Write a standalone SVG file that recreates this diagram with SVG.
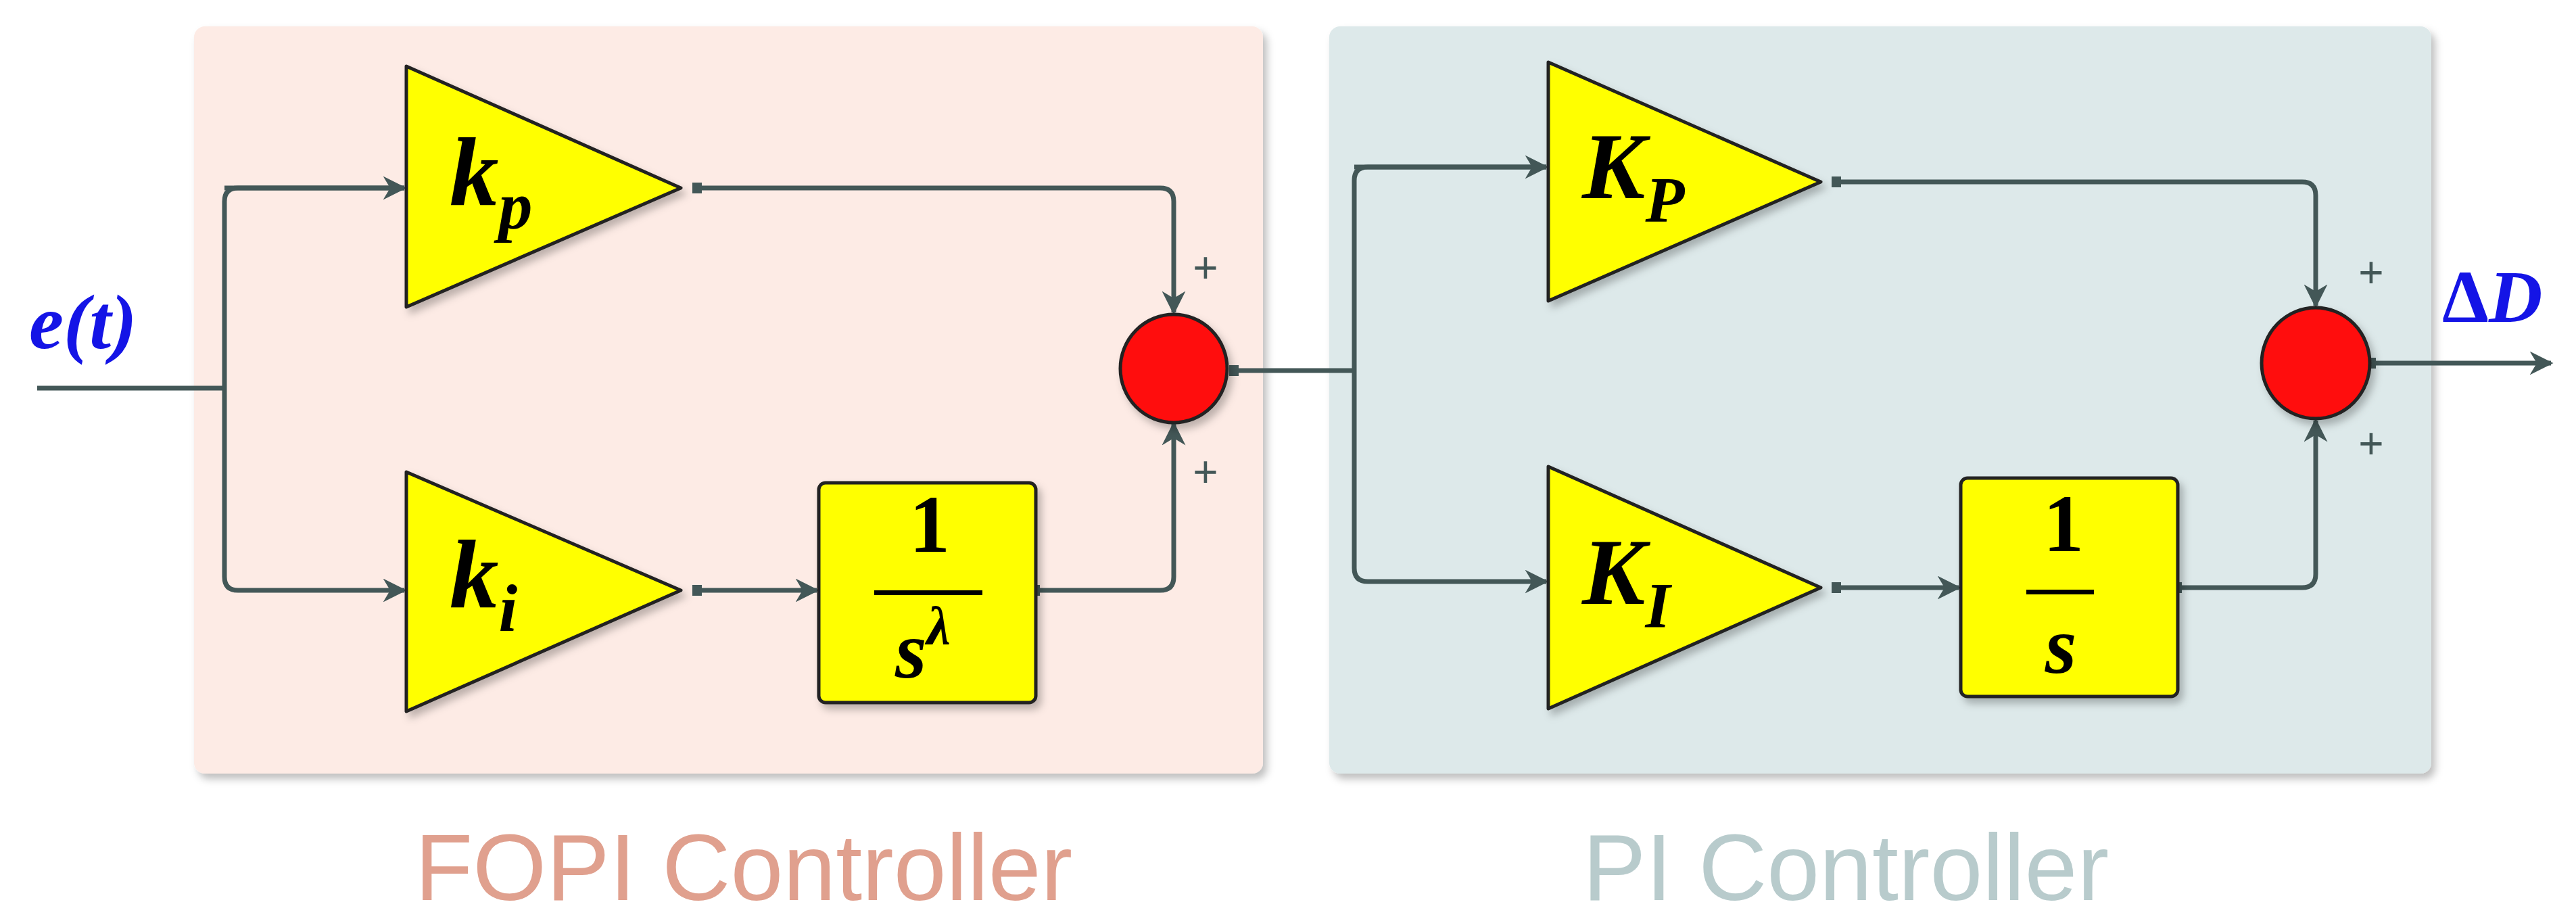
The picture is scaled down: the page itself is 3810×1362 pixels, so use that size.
<svg xmlns="http://www.w3.org/2000/svg" width="3810" height="1362" viewBox="0 0 3810 1362">
<defs>
<style>
.wire{fill:none;stroke:#435757;stroke-width:7;stroke-linejoin:round}
.tri{fill:#ffff00;stroke:#222;stroke-width:5;stroke-linejoin:round}
.blk{fill:#ffff00;stroke:#222;stroke-width:5}
.sum{fill:#ff0a0a;stroke:#222;stroke-width:5}
.port{fill:#435757}
.m{font-family:"Liberation Serif",serif;font-weight:bold;font-style:italic;fill:#000}
.n{font-family:"Liberation Serif",serif;font-weight:bold;fill:#000}
.plus{font-family:"Liberation Sans",sans-serif;font-size:64px;fill:#435757}
.cap{font-family:"Liberation Sans",sans-serif;font-size:140px}
</style>
<marker id="ah" viewBox="0 0 10 10" refX="9" refY="5" markerWidth="5" markerHeight="5" orient="auto" markerUnits="strokeWidth"><path d="M0,0 L10,5 L0,10 L3,5 z" fill="#435757"/></marker>
<filter id="sh" x="-10%" y="-10%" width="130%" height="130%"><feDropShadow dx="6" dy="8" stdDeviation="6" flood-opacity="0.25"/></filter>
</defs>
<rect width="3810" height="1362" fill="#fff"/>
<g id="fopi-panel"><rect x="287" y="39" width="1581" height="1105" rx="16" fill="#fdebe5" filter="url(#sh)"/><text class="cap" x="1100" y="1331" text-anchor="middle" fill="#e0a08e">FOPI Controller</text></g>
<g id="pi-panel"><rect x="1966" y="39" width="1630" height="1105" rx="16" fill="#dde9ea" filter="url(#sh)"/><text class="cap" x="2730" y="1331" text-anchor="middle" fill="#b8cbcc">PI Controller</text></g>
<g id="connectors">
<path class="wire" d="M55,574 H332"/>
<path class="wire" d="M598,278 H352 Q332,278 332,298 V853 Q332,873 352,873 H598" marker-end="url(#ah)"/>
<path class="wire" d="M332,278 H598" marker-end="url(#ah)"/>
<path class="wire" d="M1032,278 H1716 Q1736,278 1736,298 V462" marker-end="url(#ah)"/>
<path class="wire" d="M1032,873 H1208" marker-end="url(#ah)"/>
<path class="wire" d="M1532,873 H1716 Q1736,873 1736,853 V627" marker-end="url(#ah)"/>
<path class="wire" d="M1829,548 H2003"/>
<path class="wire" d="M2287,247 H2023 Q2003,247 2003,267 V840 Q2003,860 2023,860 H2287" marker-end="url(#ah)"/>
<path class="wire" d="M2003,247 H2287" marker-end="url(#ah)"/>
<path class="wire" d="M2717,269 H3405 Q3425,269 3425,289 V452" marker-end="url(#ah)"/>
<path class="wire" d="M2717,869 H2897" marker-end="url(#ah)"/>
<path class="wire" d="M3221,869 H3405 Q3425,869 3425,849 V622" marker-end="url(#ah)"/>
<path class="wire" d="M3505,537 H3773" marker-end="url(#ah)"/>
<rect class="port" x="1024" y="270" width="14" height="16"/>
<rect class="port" x="1024" y="865" width="14" height="16"/>
<rect class="port" x="1526" y="865" width="12" height="16"/>
<rect class="port" x="1818" y="540" width="14" height="16"/>
<rect class="port" x="2709" y="261" width="14" height="16"/>
<rect class="port" x="2709" y="861" width="14" height="16"/>
<rect class="port" x="3215" y="861" width="12" height="16"/>
<rect class="port" x="3500" y="529" width="14" height="16"/>
</g>
<g id="e-label"><text class="m" x="43" y="515" font-size="115" fill="#1414e6" style="fill:#1414e6">e(t)</text></g>
<g id="kp"><path class="tri" d="M601,98 L1007,278 L601,454 z" filter="url(#sh)"/><text class="m" x="665" y="303" font-size="145">k<tspan font-size="100" dy="35">p</tspan></text></g>
<g id="ki"><path class="tri" d="M601,698 L1007,873 L601,1052 z" filter="url(#sh)"/><text class="m" x="665" y="898" font-size="145">k<tspan font-size="100" dy="35">i</tspan></text></g>
<g id="frac-block"><rect class="blk" x="1211" y="714" width="321" height="325" rx="10" filter="url(#sh)"/><text class="n" x="1375" y="816" font-size="120" text-anchor="middle">1</text><rect x="1293" y="873" width="160" height="7" fill="#000"/><text class="m" x="1365" y="1002" font-size="120" text-anchor="middle">s<tspan font-size="80" dy="-50">λ</tspan></text></g>
<g id="sum1"><ellipse class="sum" cx="1736" cy="545" rx="79" ry="80" filter="url(#sh)"/><text class="plus" x="1783" y="418" text-anchor="middle">+</text><text class="plus" x="1783" y="720" text-anchor="middle">+</text></g>
<g id="KP"><path class="tri" d="M2290,92 L2693,269 L2290,445 z" filter="url(#sh)"/><text class="m" x="2340" y="293" font-size="140">K<tspan font-size="95" dy="35">P</tspan></text></g>
<g id="KI"><path class="tri" d="M2290,690 L2693,869 L2290,1048 z" filter="url(#sh)"/><text class="m" x="2340" y="893" font-size="140">K<tspan font-size="95" dy="35">I</tspan></text></g>
<g id="int-block"><rect class="blk" x="2900" y="707" width="321" height="323" rx="10" filter="url(#sh)"/><text class="n" x="3052" y="815" font-size="120" text-anchor="middle">1</text><rect x="2997" y="872" width="100" height="7" fill="#000"/><text class="m" x="3048" y="995" font-size="120" text-anchor="middle">s</text></g>
<g id="sum2"><ellipse class="sum" cx="3425" cy="537" rx="80" ry="82" filter="url(#sh)"/><text class="plus" x="3507" y="425" text-anchor="middle">+</text><text class="plus" x="3507" y="678" text-anchor="middle">+</text></g>
<g id="dD-label"><text class="m" x="3612" y="476" font-size="110" style="fill:#1414e6"><tspan font-style="normal">Δ</tspan>D</text></g>
</svg>
